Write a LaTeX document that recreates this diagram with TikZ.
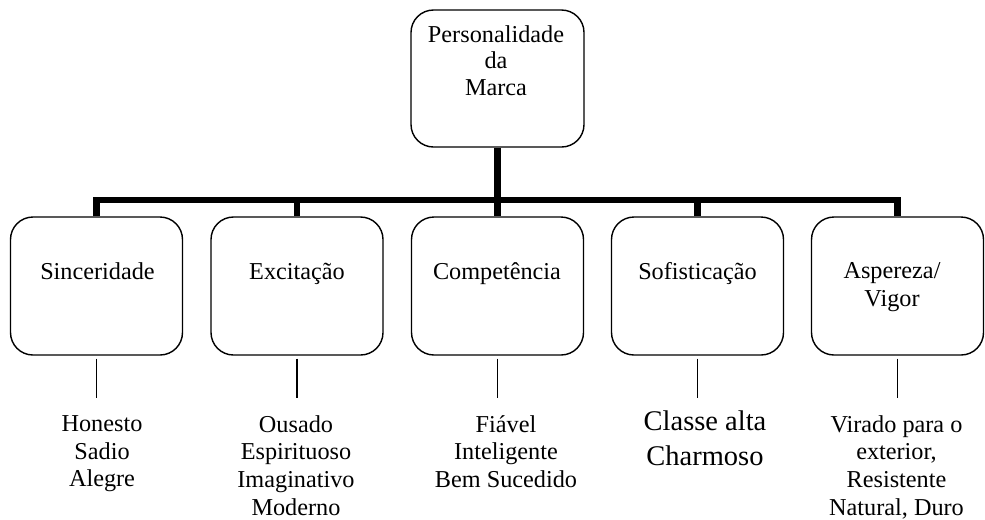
\documentclass[tikz,border=0pt]{standalone}
\usepackage{fontspec}
\setmainfont{Liberation Serif}
\usepackage{tikz}

\begin{document}
\begin{tikzpicture}[
    caixa/.style={draw, line width=0.8pt, rounded corners=0.45cm, minimum width=3.44cm, minimum height=2.76cm, inner sep=0pt},
    texto/.style={anchor=north, inner sep=0pt, align=center, font=\fontsize{13.8}{15.8}\selectfont},
    grande/.style={texto, font=\fontsize{16.2}{19.9}\selectfont},
    tronco/.style={line width=3.5pt},
    haste/.style={line width=0.7pt, shorten <=0.06cm}]
    \useasboundingbox (0,0) rectangle (19.7,-10.38);
    % caixas
    \node[caixa, minimum width=3.46cm, minimum height=2.74cm] (m) at (9.95,-1.57) {};
    \node[caixa] (s) at (1.93,-5.72) {};
    \node[caixa] (e) at (5.94,-5.72) {};
    \node[caixa] (c) at (9.95,-5.72) {};
    \node[caixa] (f) at (13.95,-5.72) {};
    \node[caixa] (v) at (17.95,-5.72) {};
    % textos das caixas
    \node[texto, font=\fontsize{13.8}{15.1}\selectfont] (mt) at (9.92,-0.5) {Personalidade\\da\\Marca};
    \node[texto] (st) at (1.95,-5.25) {Sinceridade};
    \node[texto] (et) at (5.94,-5.25) {Excitação};
    \node[texto] (ct) at (9.94,-5.25) {Competência};
    \node[texto] (ft) at (13.95,-5.25) {Sofisticação};
    \node[texto] (vt) at (17.84,-5.25) {Aspereza/\\Vigor};
    % traços
    \node[texto] (sl) at (2.04,-8.3) {Honesto\\Sadio\\Alegre};
    \node[texto] (el) at (5.92,-8.3) {Ousado\\Espirituoso\\Imaginativo\\Moderno};
    \node[texto] (cl) at (10.12,-8.3) {Fiável\\Inteligente\\Bem Sucedido};
    \node[grande] (fl) at (14.1,-8.2) {Classe alta\\Charmoso};
    \node[texto] (vl) at (17.93,-8.3) {Virado para o\\exterior,\\Resistente\\Natural, Duro};
    % ligações
    \coordinate (j) at (9.95,-4.0);
    \draw[tronco] (m.south) -- (c.north);
    \draw[tronco] (s.north) |- (j) -| (v.north);
    \draw[tronco] (e.north) -- (e.north |- j);
    \draw[tronco] (f.north) -- (f.north |- j);
    \coordinate (s1) at (1.93,-7.96);
    \coordinate (e1) at (5.94,-7.96);
    \coordinate (c1) at (9.95,-7.96);
    \coordinate (f1) at (13.95,-7.96);
    \coordinate (v1) at (17.95,-7.96);
    \draw[haste] (s.south) -- (s1);
    \draw[haste] (e.south) -- (e1);
    \draw[haste] (c.south) -- (c1);
    \draw[haste] (f.south) -- (f1);
    \draw[haste] (v.south) -- (v1);
\end{tikzpicture}
\end{document}
